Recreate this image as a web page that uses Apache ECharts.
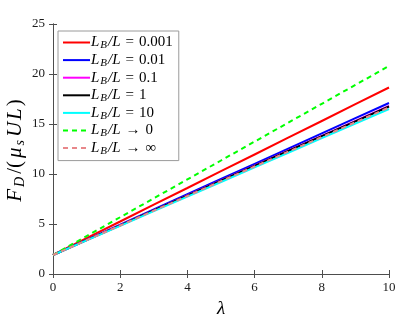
<!DOCTYPE html>
<html><head><meta charset="utf-8">
<script src="https://cdn.jsdelivr.net/npm/echarts@6/dist/echarts.min.js"></script>
<style>html,body{margin:0;padding:0;background:#fff}#c{width:411px;height:324px}</style>
</head><body><div id="c"></div>
<script>
const lambda = [0,1,2,3,4,5,6,7,8,9,10];
const xTicks = [0,2,4,6,8,10];
const yTicks = [0,5,10,15,20,25];
const seriesNames = ['= 0.001','= 0.01','= 0.1','= 1','= 10','→ 0','→ ∞'];
const red     = [1.9,3.58,5.25,6.93,8.60,10.28,11.95,13.63,15.30,16.98,18.65];
const blue    = [1.9,3.42,4.94,6.46,7.98,9.50,11.02,12.54,14.06,15.58,17.10];
const magenta = [1.9,3.39,4.88,6.37,7.86,9.35,10.84,12.33,13.82,15.31,16.80];
const black   = [1.9,3.39,4.87,6.36,7.84,9.33,10.81,12.30,13.78,15.27,16.75];
const cyan    = [1.9,3.36,4.82,6.28,7.74,9.20,10.66,12.12,13.58,15.04,16.50];
const green   = [1.9,3.79,5.68,7.57,9.46,11.35,13.24,15.13,17.02,18.91,20.80];
const pink    = [1.9,3.38,4.85,6.33,7.80,9.28,10.75,12.23,13.70,15.18,16.65];

const values = [red,blue,magenta,black,cyan,green,pink];
const colors = ['#ff0000','#0000ff','#ff00ff','#000000','#00ffff','#00ff00','#e8878a'];
const dashed = [false,false,false,false,false,true,true];
const keys = seriesNames.map((n,i)=>'s'+i);

const serif = 'Liberation Serif';
const axisColor = '#4d4d4d';
const chart = echarts.init(document.getElementById('c'), null, {renderer:'canvas'});

function legendLabel(name){
  const idx = keys.indexOf(name);
  const parts = seriesNames[idx].split(' ');
  return '{i|L}{s|B}{i|/L}{e|' + parts[0] + '}{n|' + parts[1] + '}';
}

const series = values.map((d,i)=>({
  name: keys[i],
  type:'line',
  data: lambda.map((x,j)=>[x,d[j]]),
  showSymbol:false, symbol:'none',
  lineStyle:{color:colors[i], width:2, type: dashed[i] ? [5,4] : 'solid'},
  itemStyle:{color:colors[i]},
  z: 2+i,
  animation:false
}));

const axisCommon = {
  axisLine:{show:true,lineStyle:{color:axisColor,width:1}},
  axisTick:{show:true,inside:true,length:4,lineStyle:{color:axisColor}},
  splitLine:{show:false}
};

chart.setOption({
  animation:false,
  backgroundColor:'#fff',
  grid:{left:53,right:22,top:24,bottom:50,containLabel:false,outerBoundsMode:'none'},
  legend:{
    data: keys, orient:'vertical', left:58, top:31,
    itemWidth:27, itemHeight:14, itemGap:1.6,
    padding:[4,6,4,4],
    borderColor:'#9a9a9a', borderWidth:1, backgroundColor:'#fff',
    itemStyle:{opacity:0},
    formatter: legendLabel,
    textStyle:{
      fontFamily:serif, fontSize:15, color:'#000', padding:[0,0,0,-4],
      rich:{
        i:{fontFamily:serif,fontStyle:'italic',fontSize:15,color:'#000',padding:[0,1,0,0]},
        s:{fontFamily:serif,fontStyle:'italic',fontSize:11,color:'#000',padding:[6,1,0,0]},
        e:{fontFamily:serif,fontSize:15,color:'#000',padding:[0,5,0,4]},
        n:{fontFamily:serif,fontSize:15,color:'#000'}
      }
    }
  },
  xAxis:[
    Object.assign({type:'value',min:0,max:10,interval:2,position:'bottom',
      name:'λ', nameLocation:'middle', nameGap:25, nameMoveOverlap:false,
      nameTextStyle:{fontFamily:serif,fontStyle:'italic',fontSize:19,color:'#000'},
      axisLabel:{fontFamily:serif,fontSize:13,color:'#1a1a1a',margin:7}}, axisCommon),
    Object.assign({type:'value',min:0,max:10,interval:2,position:'top',
      axisLabel:{show:false}}, axisCommon)
  ],
  yAxis:[
    Object.assign({type:'value',min:0,max:25,interval:5,position:'left',
      name:'{i|F}{s|D}{n|/(}{i|μ}{s|s}{i|U}{i|L}{n|)}', nameLocation:'middle', nameGap:26, nameMoveOverlap:false,
      nameTextStyle:{fontFamily:serif,fontSize:21,color:'#000',
        rich:{
          i:{fontFamily:serif,fontStyle:'italic',fontSize:21,color:'#000',padding:[0,2,0,0]},
          s:{fontFamily:serif,fontStyle:'italic',fontSize:14,color:'#000',padding:[9,3,0,0]},
          n:{fontFamily:serif,fontSize:21,color:'#000',padding:[0,3,0,0]}
        }},
      axisLabel:{fontFamily:serif,fontSize:13,color:'#1a1a1a',margin:8}}, axisCommon),
    Object.assign({type:'value',min:0,max:25,interval:5,position:'right',
      axisLabel:{show:false}}, axisCommon)
  ],
  series: series
});
</script></body></html>
